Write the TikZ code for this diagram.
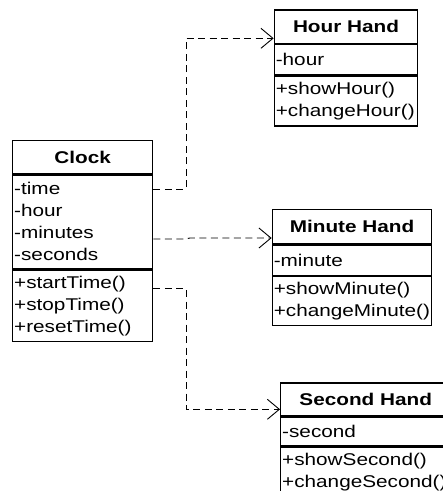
\documentclass[tikz,border=0pt]{standalone}
\usepackage{fontspec}
\setmainfont[FakeStretch=1.22]{Liberation Sans}
\usetikzlibrary{arrows.meta}
\begin{document}
\begin{tikzpicture}[x=1pt,y=-1pt,
  box/.style={draw, line width=1.3pt, rectangle, inner xsep=1.5pt, inner ysep=0pt, font=\fontsize{17}{22}\selectfont},
  title/.style={box, font=\fontsize{17}{22}\selectfont\bfseries, align=center, anchor=north},
  comp/.style={box, align=left, anchor=north},
  dep/.style={draw, line width=0.9pt, dash pattern=on 7pt off 4.5pt,
    -{Straight Barb[length=12pt,width=20pt,line width=0.9pt]}}
]
\useasboundingbox (0,0) rectangle (443,491);
\fill[white] (0,0) rectangle (443,491);
\clip (0,0) rectangle (443,491);

% Clock
\node[title, minimum width=140pt, minimum height=33pt] (clockT) at (82.7,140) {Clock};
\node[comp, text width=137pt, minimum height=93.7pt] (clockA) at (clockT.south) {-time\\-hour\\-minutes\\-seconds};
\node[comp, text width=137pt, minimum height=71.3pt] (clockO) at (clockA.south) {+startTime()\\+stopTime()\\+resetTime()};

% Hour Hand
\node[title, minimum width=143.4pt, minimum height=33.4pt] (hourT) at (346,9.3) {Hour Hand};
\node[comp, text width=140.4pt, minimum height=30pt] (hourA) at (hourT.south) {-hour};
\node[comp, text width=140.4pt, minimum height=50pt] (hourO) at (hourA.south) {+showHour()\\+changeHour()};

% Minute Hand
\node[title, minimum width=159.4pt, minimum height=34.3pt] (minT) at (352,209) {Minute Hand};
\node[comp, text width=156.4pt, minimum height=30pt] (minA) at (minT.south) {-minute};
\node[comp, text width=156.4pt, minimum height=49pt] (minO) at (minA.south) {+showMinute()\\+changeMinute()};

% Second Hand
\node[title, minimum width=170pt, minimum height=32.7pt] (secT) at (365.7,382.3) {Second Hand};
\node[comp, text width=167pt, minimum height=29pt] (secA) at (secT.south) {-second};
\node[comp, text width=167pt, minimum height=50pt] (secO) at (secA.south) {+showSecond()\\+changeSecond()};

% connectors
\coordinate (h1) at (186,189);
\coordinate (h2) at (186,38.3);
\draw[dep] (h1 -| clockA.east) -- (h1) -- (h2) -- (h2 -| hourT.west);

\coordinate (m1) at (185,239);
\coordinate (m2) at (190,238);
\draw[dep] (m1 -| clockA.east) -- (m1) -- (m2) -- (m2 -| minT.west);

\coordinate (s1) at (186,288.3);
\coordinate (s2) at (186,409.3);
\draw[dep] (s1 -| clockO.east) -- (s1) -- (s2) -- (s2 -| secT.west);
\end{tikzpicture}
\end{document}
